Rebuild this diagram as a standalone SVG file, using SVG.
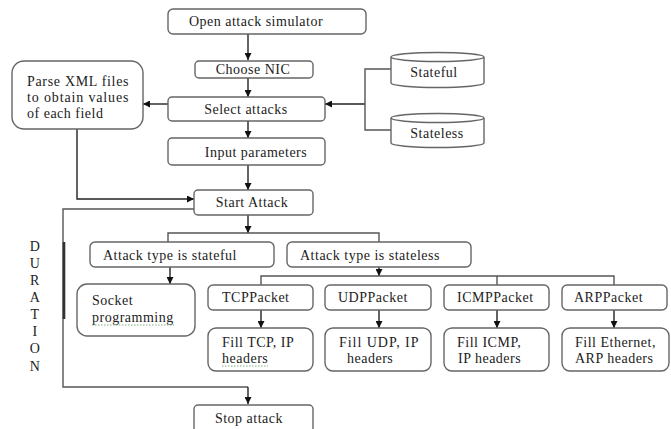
<svg xmlns="http://www.w3.org/2000/svg" width="671" height="429" viewBox="0 0 671 429">
<defs>
<marker id="ah" viewBox="0 0 10 10" refX="10" refY="5" markerWidth="7" markerHeight="7" markerUnits="userSpaceOnUse" orient="auto">
<path d="M0,0 L10,5 L0,10 z" fill="#111"/>
</marker>
<style>
.box{fill:#fff;stroke:#666;stroke-width:1.4}
.ln{fill:none;stroke:#555;stroke-width:1.4}
.ar{fill:none;stroke:#222;stroke-width:1.4;marker-end:url(#ah)}
text{font-family:"Liberation Serif","Times New Roman",serif;font-size:14px;letter-spacing:0.5px;fill:#222}
.c{text-anchor:middle}
.sq{fill:none;stroke:#7bb07b;stroke-width:1;stroke-dasharray:1.5 1.5}
</style>
</defs>
<rect width="671" height="429" fill="#fff"/>

<g id="connectors">
<path class="ar" d="M248,34 V60"/>
<path class="ar" d="M248,78 V97"/>
<path class="ar" d="M168,104 H143"/>
<path class="ar" d="M365,104 H325"/>
<path class="ln" d="M391,69 H365 V130 H391"/>
<path class="ar" d="M248,121 V138"/>
<path class="ar" d="M248,165 V190"/>
<path class="ar" d="M77,129 V199 H194"/>
<path class="ar" d="M248,215 V233"/>
<path class="ln" d="M168,242 V233 H379 V242"/>
<path class="ar" d="M170,267 V284"/>
<path class="ar" d="M379,267 V276"/>
<path class="ln" d="M261,285 V276 H614 V285 M497,276 V285"/>
<path class="ar" d="M261,310 V328"/>
<path class="ar" d="M379,310 V328"/>
<path class="ar" d="M497,310 V328"/>
<path class="ar" d="M614,310 V328"/>
<path class="ln" d="M194,209 H63 V387 H248"/>
<path class="ar" d="M248,387 V404"/>
<path d="M64,242 V319" stroke="#333" stroke-width="2.6"/>
</g>

<g id="open"><rect class="box" x="168" y="9" width="198" height="25" rx="5"/><text class="c" x="256" y="26">Open attack simulator</text></g>
<g id="nic"><rect class="box" x="195" y="61" width="118" height="17" rx="4"/><text class="c" x="253" y="74">Choose NIC</text></g>
<g id="select"><rect class="box" x="168" y="97" width="157" height="24" rx="4"/><text class="c" x="246" y="114">Select attacks</text></g>
<g id="parse"><rect class="box" x="12" y="61" width="131" height="68" rx="12"/>
<text x="27" y="86" textLength="102" lengthAdjust="spacing">Parse XML files</text>
<text x="27" y="102" textLength="102" lengthAdjust="spacing">to obtain values</text>
<text x="27" y="118">of each field</text></g>
<g id="stateful"><path class="box" d="M391,57 V83 A46.5,4.5 0 0 0 484,83 V57"/><ellipse class="box" cx="437.5" cy="57" rx="46.5" ry="4.5"/><text class="c" x="434" y="77">Stateful</text></g>
<g id="stateless"><path class="box" d="M391,118 V143 A46.5,4.5 0 0 0 484,143 V118"/><ellipse class="box" cx="437.5" cy="118" rx="46.5" ry="4.5"/><text class="c" x="437" y="138">Stateless</text></g>
<g id="input"><rect class="box" x="168" y="138" width="157" height="27" rx="4"/><text class="c" x="256" y="157">Input parameters</text></g>
<g id="start"><rect class="box" x="194" y="190" width="119" height="25" rx="4"/><text class="c" x="252" y="207">Start Attack</text></g>
<g id="typestateful"><rect class="box" x="90" y="242" width="184" height="25" rx="5"/><text x="103" y="260">Attack type is stateful</text></g>
<g id="typestateless"><rect class="box" x="287" y="242" width="184" height="25" rx="5"/><text x="300" y="260">Attack type is stateless</text></g>
<g id="socket"><rect class="box" x="77" y="284" width="118" height="52" rx="10"/><text x="92" y="305">Socket</text><text x="92" y="322">programming</text><path class="sq" d="M92,325 H174"/></g>
<g id="tcp"><rect class="box" x="208" y="285" width="105" height="25" rx="5"/><text x="222" y="302">TCPPacket</text></g>
<g id="udp"><rect class="box" x="325" y="285" width="106" height="25" rx="5"/><text x="338" y="302">UDPPacket</text></g>
<g id="icmp"><rect class="box" x="444" y="285" width="105" height="25" rx="5"/><text x="457" y="302">ICMPPacket</text></g>
<g id="arp"><rect class="box" x="562" y="285" width="105" height="25" rx="5"/><text x="574" y="302">ARPPacket</text></g>
<g id="filltcp"><rect class="box" x="208" y="328" width="105" height="43" rx="8"/><text x="222" y="347">Fill TCP, IP</text><text x="222" y="363">headers</text><path class="sq" d="M222,366 H268"/></g>
<g id="filludp"><rect class="box" x="325" y="328" width="106" height="43" rx="8"/><text x="339" y="347" textLength="80" lengthAdjust="spacing">Fill UDP, IP</text><text x="347" y="363">headers</text></g>
<g id="fillicmp"><rect class="box" x="444" y="328" width="105" height="43" rx="8"/><text x="457" y="347">Fill ICMP,</text><text x="458" y="363">IP headers</text></g>
<g id="fillarp"><rect class="box" x="562" y="328" width="107" height="43" rx="8"/><text x="575" y="347">Fill Ethernet,</text><text x="575" y="363">ARP headers</text></g>
<g id="stop"><rect class="box" x="194" y="405" width="119" height="30" rx="4"/><text class="c" x="249" y="423">Stop attack</text></g>
<g id="duration">
<text class="c" x="35" y="251">D</text>
<text class="c" x="35" y="268">U</text>
<text class="c" x="35" y="285">R</text>
<text class="c" x="35" y="302">A</text>
<text class="c" x="35" y="319">T</text>
<text class="c" x="35" y="336">I</text>
<text class="c" x="35" y="353">O</text>
<text class="c" x="35" y="371">N</text>
</g>
</svg>
